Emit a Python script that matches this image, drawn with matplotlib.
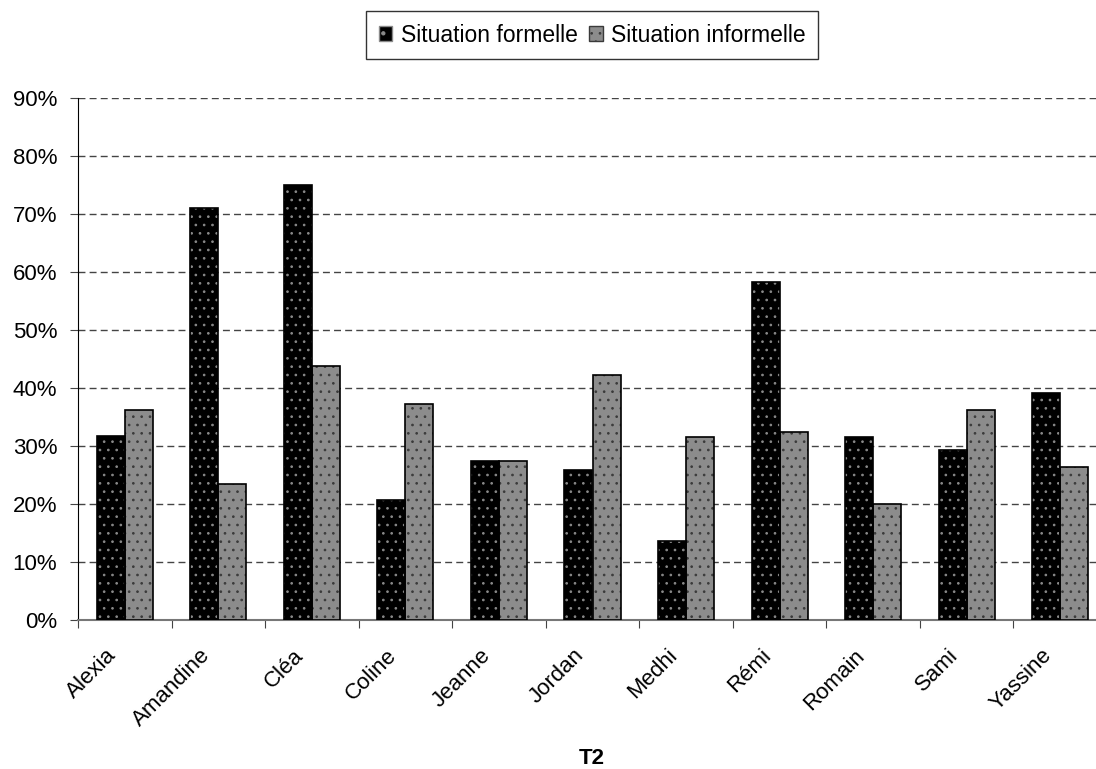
import matplotlib
matplotlib.use('Agg')
import matplotlib.pyplot as plt
import matplotlib.patches as patches
import matplotlib.transforms as mtransforms
import numpy as np

# --- DATA ---
names = ['Alexia', 'Amandine', 'Cléa', 'Coline', 'Jeanne', 'Jordan',
         'Medhi', 'Rémi', 'Romain', 'Sami', 'Yassine']
formelle = [31.8, 71.0, 75.0, 20.7, 27.4, 25.8, 13.7, 58.2, 31.5, 29.3, 39.2]
informelle = [36.2, 23.5, 43.8, 37.2, 27.4, 42.2, 31.5, 32.4, 20.0, 36.2, 26.4]
series_labels = ['Situation formelle', 'Situation informelle']
yticks = [0, 10, 20, 30, 40, 50, 60, 70, 80, 90]

# --- STYLE ---
plt.rcParams['font.family'] = ['Liberation Sans', 'DejaVu Sans']
plt.rcParams['hatch.linewidth'] = 0.7
BLACK = '#000000'
GRAY = '#8c8c8c'
GRID = '#444444'
FS = 16

fig = plt.figure(figsize=(10.96, 7.69), dpi=100)
fig.patch.set_facecolor('white')
ax = fig.add_axes([78 / 1096, 149 / 769, 1029 / 1096, 522 / 769])

x = np.arange(len(names))
w = 0.3

# fill + hatch layer, then outline layer
ax.bar(x - w / 2, formelle, w, color=BLACK, hatch='..', edgecolor='#8a8a8a', lw=0, zorder=3)
ax.bar(x - w / 2, formelle, w, fill=False, edgecolor=BLACK, lw=1.2, zorder=4)
ax.bar(x + w / 2, informelle, w, color=GRAY, hatch='..', edgecolor='#3a3a3a', lw=0, zorder=3)
ax.bar(x + w / 2, informelle, w, fill=False, edgecolor=BLACK, lw=1.2, zorder=4)

ax.set_xlim(-0.5, len(names) - 0.5)
ax.set_ylim(0, 90)

ax.set_yticks(yticks)
ax.set_yticklabels([f'{v}%' for v in yticks], fontsize=FS)
ax.yaxis.grid(True, linestyle=(0, (5, 3)), color=GRID, lw=1)
ax.set_axisbelow(True)

# category ticks on boundaries, labels at centres
ax.set_xticks(np.arange(len(names) + 1) - 0.5)
ax.set_xticklabels([])
ax.set_xticks(x, minor=True)
ax.set_xticklabels(names, minor=True, rotation=45, ha='right',
                   rotation_mode='anchor', fontsize=FS)
ax.tick_params(axis='x', which='minor', length=0, pad=18)
ax.tick_params(axis='x', which='major', length=6, direction='out', color='#444444')
ax.tick_params(axis='y', length=6, direction='out', color='#444444', pad=9)
shift = mtransforms.ScaledTranslation(-0.19, 0, fig.dpi_scale_trans)
for lab in ax.get_xticklabels(minor=True):
    lab.set_transform(lab.get_transform() + shift)

for side in ['top', 'right']:
    ax.spines[side].set_visible(False)
ax.spines['left'].set_color('black')
ax.spines['bottom'].set_color('#777777')
ax.spines['bottom'].set_linewidth(1.5)

fig.text(592 / 1096, 1 - 758 / 769, 'T2', ha='center', va='center',
         fontsize=FS, fontweight='bold')

# --- LEGEND ---
h1 = patches.Patch(facecolor=BLACK, edgecolor='#8a8a8a', hatch='.')
h2 = patches.Patch(facecolor=GRAY, edgecolor='#3a3a3a', hatch='..')
leg = fig.legend([h1, h2], series_labels, loc='center',
                 bbox_to_anchor=(592 / 1096, 1 - 35 / 769), ncol=2,
                 fontsize=16.5, frameon=True, fancybox=False,
                 handlelength=0.6, handleheight=0.6, handletextpad=0.35,
                 columnspacing=0.5, borderpad=0.55, borderaxespad=0)
leg.get_frame().set_edgecolor('black')
leg.get_frame().set_linewidth(1)

fig.savefig('out.png', dpi=100)
